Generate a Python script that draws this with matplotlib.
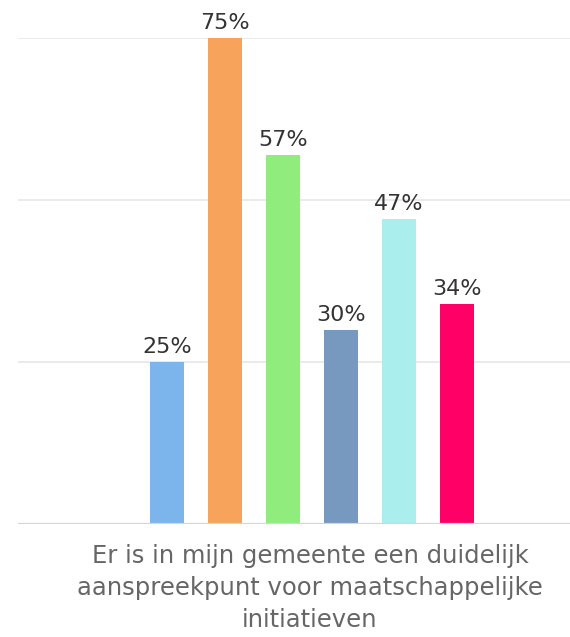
import matplotlib
matplotlib.use("Agg")
import matplotlib.pyplot as plt

# -------------------------------------------------------
# DATA
# -------------------------------------------------------
values = [25, 75, 57, 30, 47, 34]
labels = ["25%", "75%", "57%", "30%", "47%", "34%"]
colors = ["#7cb5ec", "#f7a35c", "#90ed7d", "#7798bf", "#aaeeee", "#ff0066"]
category = "Er is in mijn gemeente een duidelijk\naanspreekpunt voor maatschappelijke\ninitiatieven"
grid_ticks = [25, 50, 75]

# -------------------------------------------------------
# PLOT
# -------------------------------------------------------
W, H = 570, 637
fig = plt.figure(figsize=(W / 100, H / 100), dpi=100)
ax = fig.add_axes([18 / W, 113 / H, 1 - 18 / W, (524 - 38) / H])

x = list(range(len(values)))
ax.bar(x, values, width=0.6, color=colors, zorder=2)

ax.set_ylim(0, 75)
ax.set_xlim((18 - 167) / 58, (570 - 167) / 58)

for t in grid_ticks:
    ax.axhline(t, color="#e6e6e6", linewidth=1.2, zorder=1)
ax.axhline(0, color="#ccd6eb", linewidth=1.6, zorder=3)

for xi, v, lab in zip(x, values, labels):
    ax.annotate(lab, xy=(xi, v), xytext=(0, 5), textcoords="offset pixels",
                ha="center", va="bottom", fontsize=16, color="#333333",
                clip_on=False)

for s in ax.spines.values():
    s.set_visible(False)
ax.set_xticks([])
ax.set_yticks([])

fig.text(310 / W, 1 - 544 / H, category, ha="center", va="top",
         fontsize=17.5, color="#666666", linespacing=1.42)

fig.savefig("out.png", dpi=100)
